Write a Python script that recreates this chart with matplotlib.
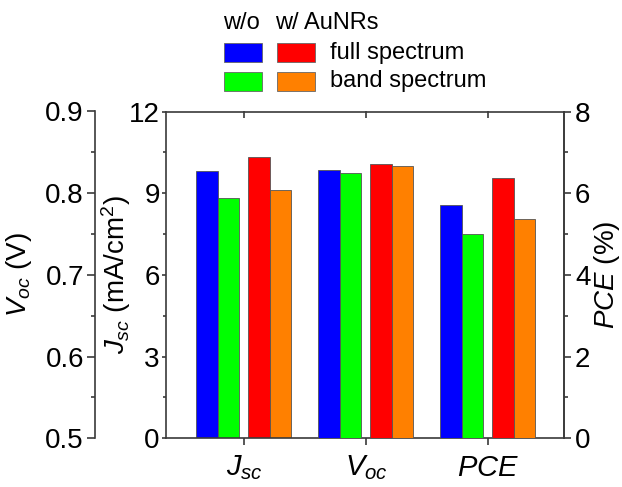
import numpy as np
import matplotlib
matplotlib.use('Agg')
import matplotlib.pyplot as plt
from matplotlib.patches import Rectangle

plt.rcParams['font.family'] = ['Liberation Sans', 'DejaVu Sans']
plt.rcParams['mathtext.fontset'] = 'custom'
plt.rcParams['mathtext.rm'] = 'Liberation Sans'
plt.rcParams['mathtext.it'] = 'Liberation Sans:italic'

# data: w/o full, w/o band, w/ full, w/ band
categories = [r'$J_{sc}$', r'$V_{oc}$', r'$PCE$']
series     = ['w/o full', 'w/o band', 'w/ full', 'w/ band']
colors     = ['#0000ff', '#00ff00', '#ff0000', '#ff8000']
jsc = [9.83, 8.82, 10.32, 9.13]
voc = [0.828, 0.825, 0.836, 0.833]
pce = [5.70, 5.01, 6.37, 5.37]

offsets = [-0.305, -0.128, 0.123, 0.298]
width   = 0.176
spine_c = '#3a3a3a'
fs = 20

fig = plt.figure(figsize=(6.22, 4.87), dpi=100)
ax = fig.add_axes([166/622, 1-438.3/487, 398/622, (438.3-111.5)/487])
ax_v = ax.twinx()
ax_p = ax.twinx()

for i in range(4):
    ax.bar(0 + offsets[i], jsc[i], width, color=colors[i], edgecolor='#555555', linewidth=0.6)
    ax_v.bar(1 + offsets[i], voc[i] - 0.5, width, bottom=0.5, color=colors[i], edgecolor='#555555', linewidth=0.6)
    ax_p.bar(2 + offsets[i], pce[i], width, color=colors[i], edgecolor='#555555', linewidth=0.6)

ax.set_xlim(-0.64, 2.623)
ax.set_ylim(0, 12)
ax_v.set_ylim(0.5, 0.9)
ax_p.set_ylim(0, 8)

# Jsc axis
ax.set_yticks(np.arange(0, 13, 3))
ax.set_yticks(np.arange(1.5, 12, 3), minor=True)
ax.tick_params(axis='y', which='major', direction='out', length=3, width=1.2, color=spine_c, labelsize=fs, pad=1.5)
ax.tick_params(axis='y', which='minor', direction='out', length=2, width=1.2, color=spine_c)
ax.set_xticks(range(3))
ax.set_xticklabels(categories, fontsize=21)
ax.tick_params(axis='x', direction='out', length=5, width=1.2, color=spine_c, pad=6)
for s in ax.spines.values():
    s.set_color(spine_c)
    s.set_linewidth(1.2)
ax.set_ylabel(r'$J_{sc}$ (mA/cm$^2$)', fontsize=fs)
ax.yaxis.set_label_coords(-0.083, 0.5)

top = ax.secondary_xaxis('top')
top.set_xticks(range(3))
top.set_xticklabels([])
top.tick_params(direction='in', length=5, width=1.2, color=spine_c)
top.spines['top'].set_visible(False)

# Voc axis
ax_v.yaxis.tick_left()
ax_v.yaxis.set_label_position('left')
for k in ['right', 'top', 'bottom']:
    ax_v.spines[k].set_visible(False)
ax_v.spines['left'].set_position(('outward', 71*0.72))
ax_v.spines['left'].set_color(spine_c)
ax_v.spines['left'].set_linewidth(1.2)
ax_v.set_yticks([0.5, 0.6, 0.7, 0.8, 0.9])
ax_v.set_yticks([0.55, 0.65, 0.75, 0.85], minor=True)
ax_v.set_yticklabels(['0.5', '0.6', '0.7', '0.8', '0.9'])
ax_v.tick_params(axis='y', which='major', direction='out', length=6, width=1.2, color=spine_c, labelsize=fs, pad=2)
ax_v.tick_params(axis='y', which='minor', direction='out', length=3, width=1.2, color=spine_c)
ax_v.set_ylabel(r'$V_{oc}$ (V)', fontsize=fs)
ax_v.yaxis.set_label_coords(-0.332, 0.5)

# PCE axis
for k in ['left', 'top', 'bottom']:
    ax_p.spines[k].set_visible(False)
ax_p.spines['right'].set_color(spine_c)
ax_p.spines['right'].set_linewidth(1.2)
ax_p.set_yticks(np.arange(0, 9, 2))
ax_p.set_yticks(np.arange(1, 8, 2), minor=True)
ax_p.tick_params(axis='y', which='major', direction='out', length=5, width=1.2, color=spine_c, labelsize=fs, pad=3)
ax_p.tick_params(axis='y', which='minor', direction='out', length=3, width=1.2, color=spine_c)
ax_p.set_ylabel(r'$PCE$ (%)', fontsize=fs, rotation=90)
ax_p.yaxis.set_label_coords(1.07, 0.5)

# legend
W, H = 622, 487
def fx(x): return x / W
def fy(y): return 1 - y / H
fig.text(fx(223), fy(23), 'w/o', fontsize=17, va='center', ha='left')
fig.text(fx(275), fy(23), 'w/ AuNRs', fontsize=17, va='center', ha='left')
boxes = [(224, 43), (224, 72), (277, 43), (277, 72)]
for (bx, by), c in zip(boxes, colors):
    fig.patches.append(Rectangle((fx(bx), fy(by + 19)), 38/W, 19/H, transform=fig.transFigure,
                                 facecolor=c, edgecolor='#666666', linewidth=0.6))
fig.text(fx(330), fy(53), 'full spectrum', fontsize=17, va='center', ha='left')
fig.text(fx(330), fy(81), 'band spectrum', fontsize=17, va='center', ha='left')

fig.savefig('out.png', dpi=100)
